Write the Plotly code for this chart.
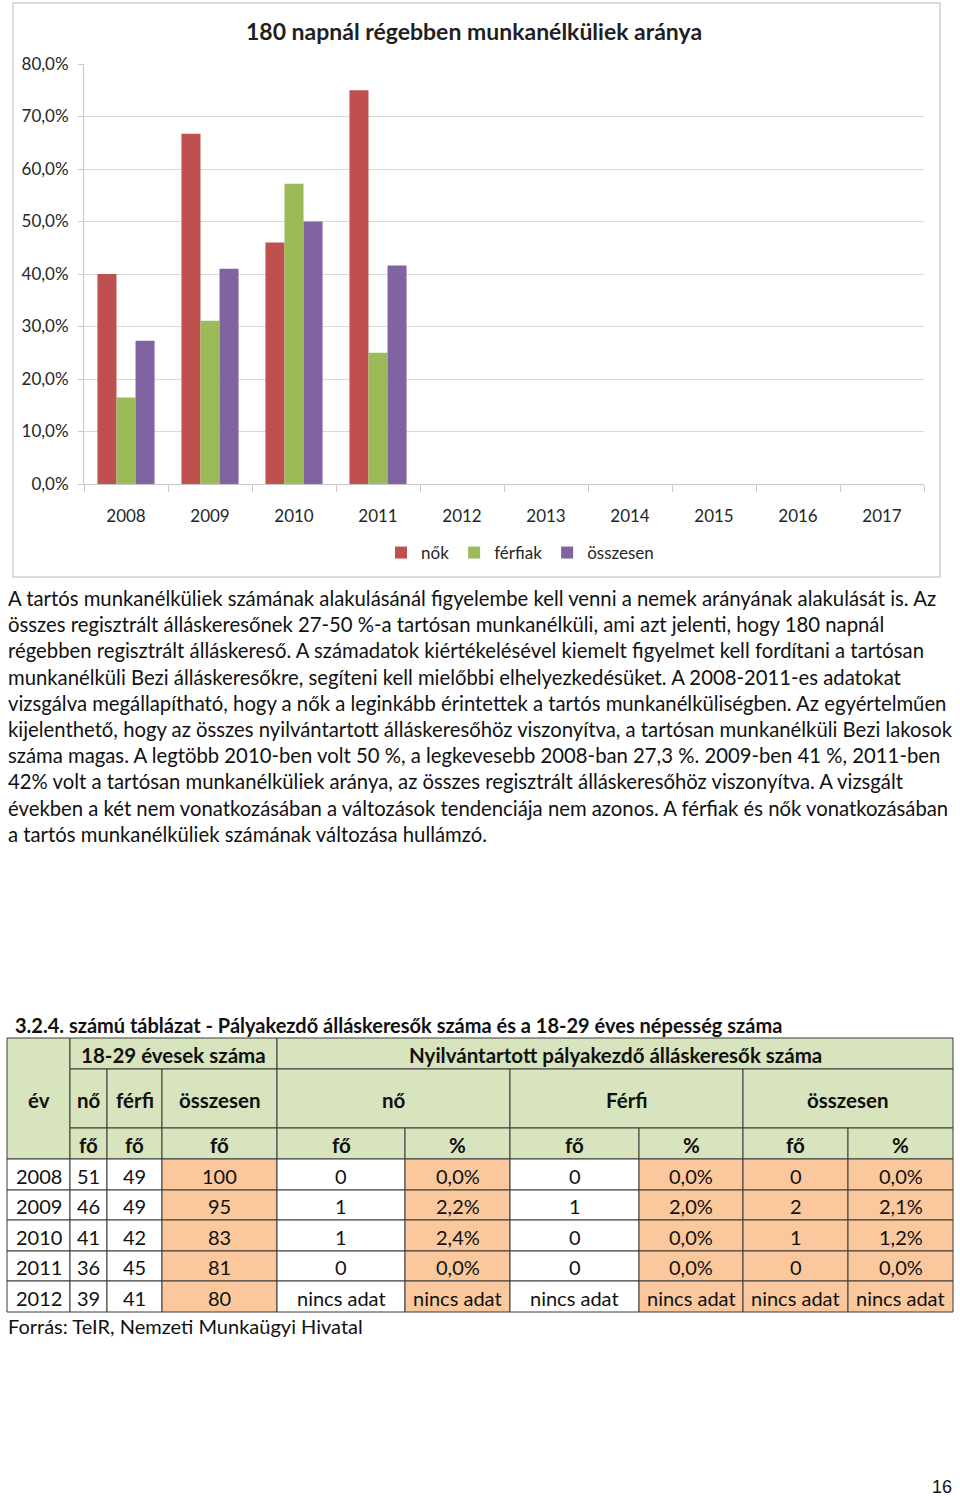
import plotly.graph_objects as go

W, H = 960, 1496

# ---------------- chart data ----------------
years = ["2008", "2009", "2010", "2011", "2012", "2013", "2014", "2015", "2016", "2017"]
nok = [40.0, 66.7, 46.0, 75.0, None, None, None, None, None, None]
ferfiak = [16.5, 31.1, 57.2, 25.0, None, None, None, None, None, None]
osszesen = [27.3, 41.0, 50.0, 41.6, None, None, None, None, None, None]
series_names = ["nők", "férfiak", "összesen"]
series_colors = ["#C0504D", "#9BBB59", "#8064A2"]
chart_title = "180 napnál régebben munkanélküliek aránya"

# ---------------- paragraph ----------------
paragraph_lines = [
    "A tartós munkanélküliek számának alakulásánál figyelembe kell venni a nemek arányának alakulását is. Az",
    "összes regisztrált álláskeresőnek 27-50 %-a tartósan munkanélküli, ami azt jelenti, hogy 180 napnál",
    "régebben regisztrált álláskereső. A számadatok kiértékelésével kiemelt figyelmet kell fordítani a tartósan",
    "munkanélküli Bezi álláskeresőkre, segíteni kell mielőbbi elhelyezkedésüket. A 2008-2011-es adatokat",
    "vizsgálva megállapítható, hogy a nők a leginkább érintettek a tartós munkanélküliségben. Az egyértelműen",
    "kijelenthető, hogy az összes nyilvántartott álláskeresőhöz viszonyítva, a tartósan munkanélküli Bezi lakosok",
    "száma magas. A legtöbb 2010-ben volt 50 %, a legkevesebb 2008-ban 27,3 %. 2009-ben 41 %, 2011-ben",
    "42% volt a tartósan munkanélküliek aránya, az összes regisztrált álláskeresőhöz viszonyítva. A vizsgált",
    "években a két nem vonatkozásában a változások tendenciája nem azonos. A férfiak és nők vonatkozásában",
    "a tartós munkanélküliek számának változása hullámzó.",
]

# ---------------- table data ----------------
table_title = "3.2.4. számú táblázat - Pályakezdő álláskeresők száma és a 18-29 éves népesség száma"
t_years = ["2008", "2009", "2010", "2011", "2012"]
t_no = [51, 46, 41, 36, 39]
t_ferfi = [49, 49, 42, 45, 41]
t_ossz = [100, 95, 83, 81, 80]
reg_no_fo = [0, 1, 1, 0, None]
reg_no_pct = [0.0, 2.2, 2.4, 0.0, None]
reg_ferfi_fo = [0, 1, 0, 0, None]
reg_ferfi_pct = [0.0, 2.0, 0.0, 0.0, None]
reg_ossz_fo = [0, 2, 1, 0, None]
reg_ossz_pct = [0.0, 2.1, 1.2, 0.0, None]
no_data_text = "nincs adat"
header_top = ["év", "18-29 évesek száma", "Nyilvántartott pályakezdő álláskeresők száma"]
header_mid = ["nő", "férfi", "összesen", "nő", "Férfi", "összesen"]
header_units = ["fő", "fő", "fő", "fő", "%", "fő", "%", "fő", "%"]
source_text = "Forrás: TeIR, Nemzeti Munkaügyi Hivatal"
page_number = "16"

FONT = "Lato"


def fx(x):
    return x / W


def fy(y):
    return 1 - y / H


fig = go.Figure()
for name, vals, col in zip(series_names, [nok, ferfiak, osszesen], series_colors):
    fig.add_trace(go.Bar(x=years, y=vals, name=name, marker=dict(color=col, line=dict(width=0))))

shapes = []
annotations = []

# chart border
shapes.append(dict(type="rect", xref="paper", yref="paper", x0=fx(13), x1=fx(940), y0=fy(577), y1=fy(3),
                   line=dict(color="#d0d0d0", width=1.5), fillcolor="rgba(0,0,0,0)", layer="below"))

annotations.append(dict(text="<b>" + chart_title + "</b>", xref="paper", yref="paper", x=fx(474), y=fy(31),
                        xanchor="center", yanchor="middle", showarrow=False,
                        font=dict(family=FONT, size=23, color="#1f1f1f")))

# paragraph
for i, line in enumerate(paragraph_lines):
    annotations.append(dict(text=line, xref="paper", yref="paper", x=fx(6), y=fy(598 + i * 26.2),
                            xanchor="left", yanchor="middle", showarrow=False,
                            font=dict(family=FONT, size=20.3, color="#111111")))

# table title
annotations.append(dict(text="<b>" + table_title + "</b>", xref="paper", yref="paper", x=fx(13), y=fy(1025),
                        xanchor="left", yanchor="middle", showarrow=False,
                        font=dict(family=FONT, size=20, color="#111111")))

col_edges = [7, 70, 107, 162, 277, 405, 510, 639, 743, 848, 953]
row_edges = [1038, 1069, 1128, 1159, 1190, 1220, 1251, 1281, 1312]
GREEN = "#D7E4BD"
ORANGE = "#FAC89C"
WHITE = "#FFFFFF"
BORDER = "#3a3a3a"


def cell(c0, c1, r0, r1, fill, text, bold=False, size=20):
    x0, x1 = col_edges[c0], col_edges[c1]
    y0, y1 = row_edges[r0], row_edges[r1]
    shapes.append(dict(type="rect", xref="paper", yref="paper", x0=fx(x0), x1=fx(x1), y0=fy(y1), y1=fy(y0),
                       line=dict(color=BORDER, width=1), fillcolor=fill, layer="above"))
    t = "<b>" + text + "</b>" if bold else text
    annotations.append(dict(text=t, xref="paper", yref="paper", x=fx((x0 + x1) / 2), y=fy((y0 + y1) / 2 + 1),
                            xanchor="center", yanchor="middle", showarrow=False,
                            font=dict(family=FONT, size=size, color="#111111")))


# headers
cell(0, 1, 0, 3, GREEN, header_top[0], True, 20.5)
cell(1, 4, 0, 1, GREEN, header_top[1], True, 20.5)
cell(4, 10, 0, 1, GREEN, header_top[2], True, 20.5)
mid_spans = [(1, 2), (2, 3), (3, 4), (4, 6), (6, 8), (8, 10)]
for (c0, c1), t in zip(mid_spans, header_mid):
    cell(c0, c1, 1, 2, GREEN, t, True, 20.5)
for j, t in enumerate(header_units):
    cell(j + 1, j + 2, 2, 3, GREEN, t, True, 20.5)


def fmt_int(v):
    return no_data_text if v is None else str(v)


def fmt_pct(v):
    return no_data_text if v is None else (f"{v:.1f}".replace(".", ",") + "%")


fills = [WHITE, WHITE, WHITE, ORANGE, WHITE, ORANGE, WHITE, ORANGE, ORANGE, ORANGE]
for i in range(len(t_years)):
    row_vals = [t_years[i], fmt_int(t_no[i]), fmt_int(t_ferfi[i]), fmt_int(t_ossz[i]),
                fmt_int(reg_no_fo[i]), fmt_pct(reg_no_pct[i]),
                fmt_int(reg_ferfi_fo[i]), fmt_pct(reg_ferfi_pct[i]),
                fmt_int(reg_ossz_fo[i]), fmt_pct(reg_ossz_pct[i])]
    for j, t in enumerate(row_vals):
        cell(j, j + 1, 3 + i, 4 + i, fills[j], t, False, 20)

annotations.append(dict(text=source_text, xref="paper", yref="paper", x=fx(6), y=fy(1326),
                        xanchor="left", yanchor="middle", showarrow=False,
                        font=dict(family=FONT, size=20, color="#111111")))
annotations.append(dict(text=page_number, xref="paper", yref="paper", x=fx(954), y=fy(1487),
                        xanchor="right", yanchor="middle", showarrow=False,
                        font=dict(family="Liberation Sans", size=18, color="#111111")))

fig.update_layout(
    width=W, height=H, autosize=False,
    margin=dict(l=0, r=0, t=0, b=0, pad=0, autoexpand=False),
    paper_bgcolor="white", plot_bgcolor="white",
    separators=", ",
    barmode="group", bargap=0.32, bargroupgap=0,
    font=dict(family=FONT, size=16, color="#262626"),
    showlegend=True,
    legend=dict(orientation="h", x=fx(520), xanchor="center", y=fy(553), yanchor="middle",
                font=dict(family=FONT, size=17, color="#262626"), itemwidth=30,
                bgcolor="rgba(0,0,0,0)"),
    shapes=shapes,
    annotations=annotations,
    xaxis=dict(domain=[fx(84), fx(924)], type="category", categoryorder="array", categoryarray=years,
               range=[-0.5, 9.5], showline=True, linecolor="#c8c8c8", linewidth=1,
               ticks="outside", tickson="boundaries", ticklen=7, tickcolor="#c8c8c8",
               showgrid=False, ticklabelstandoff=17, automargin=False,
               tickfont=dict(family=FONT, size=17, color="#262626")),
    yaxis=dict(domain=[fy(484), fy(64)], range=[0, 80], dtick=10, tickformat=".1f", ticksuffix="%",
               showgrid=True, gridcolor="#dadada", gridwidth=1, zeroline=False,
               showline=True, linecolor="#c8c8c8", linewidth=1, automargin=False,
               ticks="outside", ticklen=5, tickcolor="#c8c8c8", ticklabelstandoff=6,
               tickfont=dict(family=FONT, size=17, color="#262626")),
)

fig.write_html(
    "out.html",
    config={"displayModeBar": False},
    post_script=(
        "document.documentElement.style.margin='0';document.documentElement.style.padding='0';"
        "document.body.style.margin='0';document.body.style.padding='0';"
        "document.documentElement.style.overflow='hidden';document.body.style.overflow='hidden';"
    ),
)
